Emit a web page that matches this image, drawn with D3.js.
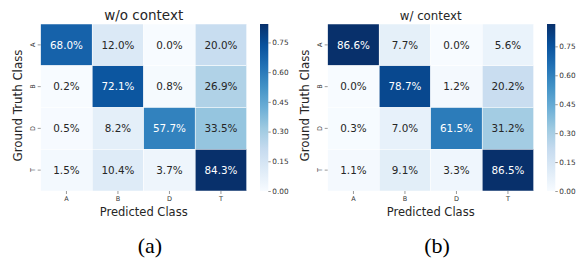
<!DOCTYPE html>
<html>
<head>
<meta charset="utf-8">
<script src="https://cdn.jsdelivr.net/npm/d3@7"></script>
<style>
  body { margin: 0; background: #fff; }
  svg { font-family: "DejaVu Sans", sans-serif; }
</style>
</head>
<body>
<div id="chart"></div>
<script>
const classes = ['A', 'B', 'D', 'T']
const woContext = [
  [68.0, 12.0, 0.0, 20.0],
  [0.2, 72.1, 0.8, 26.9],
  [0.5, 8.2, 57.7, 33.5],
  [1.5, 10.4, 3.7, 84.3]
]
const wContext = [
  [86.6, 7.7, 0.0, 5.6],
  [0.0, 78.7, 1.2, 20.2],
  [0.3, 7.0, 61.5, 31.2],
  [1.1, 9.1, 3.3, 86.5]
]
const titles = ['w/o context', 'w/ context']
const captions = ['(a)', '(b)']
const cbTicks = [0, 0.15, 0.30, 0.45, 0.60, 0.75]

const width = 579
const height = 260

const svg = d3.select('#chart').append('svg')
  .attr('width', width)
  .attr('height', height)

// matplotlib Blues = linear through the brewer colours
const blues = d3.schemeBlues[9]

function lum (c) {
  const rgb = d3.rgb(c)
  const f = v => {
    v = v / 255
    return v <= 0.03928 ? v / 12.92 : Math.pow((v + 0.055) / 1.055, 2.4)
  }
  return 0.2126 * f(rgb.r) + 0.7152 * f(rgb.g) + 0.0722 * f(rgb.b)
}

function drawPanel (g, matrix, title, caption, titleSize) {
  const x0 = 40.7, x1 = 246.7, y0 = 24, y1 = 191
  const vmax = d3.max(matrix.flat()) / 100

  const x = d3.scaleBand().domain(classes).range([x0, x1])
  const y = d3.scaleBand().domain(classes).range([y0, y1])
  const color = d3.scaleLinear()
    .domain(d3.range(9).map(i => i / 8 * vmax))
    .range(blues)
    .clamp(true)

  const cells = []
  matrix.forEach((row, i) => row.forEach((v, j) => {
    cells.push({ r: classes[i], c: classes[j], v: v })
  }))

  g.selectAll('rect.cell')
    .data(cells)
    .enter().append('rect')
    .attr('class', 'cell')
    .attr('x', d => x(d.c))
    .attr('y', d => y(d.r))
    .attr('width', x.bandwidth())
    .attr('height', y.bandwidth())
    .attr('fill', d => color(d.v / 100))
    .attr('stroke', '#fff')
    .attr('stroke-width', 0.5)

  g.selectAll('text.val')
    .data(cells)
    .enter().append('text')
    .attr('class', 'val')
    .attr('x', d => x(d.c) + x.bandwidth() / 2)
    .attr('y', d => y(d.r) + y.bandwidth() / 2)
    .attr('dy', '0.36em')
    .attr('text-anchor', 'middle')
    .attr('font-size', 10.4)
    .attr('fill', d => lum(color(d.v / 100)) > 0.408 ? '#262626' : '#fff')
    .text(d => d.v.toFixed(1) + '%')

  // x axis
  const xAxis = g.append('g')
    .attr('transform', 'translate(0,' + y1 + ')')
    .call(d3.axisBottom(x).tickSize(3).tickPadding(2))
  xAxis.select('.domain').remove()
  xAxis.selectAll('line').attr('stroke', '#555').attr('stroke-width', 0.6)
  xAxis.selectAll('text').attr('font-size', 6.5).attr('fill', '#333')
    .attr('font-family', '"DejaVu Sans", sans-serif')

  // y axis, labels turned like seaborn does
  const yAxis = g.append('g')
    .attr('transform', 'translate(' + x0 + ',0)')
    .call(d3.axisLeft(y).tickSize(3).tickPadding(2))
  yAxis.select('.domain').remove()
  yAxis.selectAll('line').attr('stroke', '#555').attr('stroke-width', 0.6)
  yAxis.selectAll('text')
    .attr('font-size', 6.5).attr('fill', '#333')
    .attr('font-family', '"DejaVu Sans", sans-serif')
    .attr('text-anchor', 'middle')
    .attr('x', 0).attr('dy', 0)
    .attr('transform', 'translate(-8,0) rotate(-90)')
    .attr('y', 0)
    .attr('dominant-baseline', 'central')

  // labels
  g.append('text')
    .attr('x', (x0 + x1) / 2)
    .attr('y', 19.5)
    .attr('text-anchor', 'middle')
    .attr('font-size', titleSize)
    .attr('fill', '#262626')
    .text(title)

  g.append('text')
    .attr('x', (x0 + x1) / 2)
    .attr('y', 216)
    .attr('text-anchor', 'middle')
    .attr('font-size', 11.5)
    .attr('fill', '#262626')
    .text('Predicted Class')

  g.append('text')
    .attr('transform', 'translate(21.5,' + ((y0 + y1) / 2 - 2) + ') rotate(-90)')
    .attr('text-anchor', 'middle')
    .attr('font-size', 11.8)
    .attr('fill', '#262626')
    .text('Ground Truth Class')

  g.append('text')
    .attr('x', 150)
    .attr('y', 253)
    .attr('text-anchor', 'middle')
    .style('font-size', '22px')
    .style('font-family', '"Liberation Serif", "Times New Roman", serif')
    .attr('fill', '#000')
    .text(caption)

  // colorbar
  const cbx = 260, cbw = 8.3
  const cy = d3.scaleLinear().domain([0, vmax]).range([y1, y0])
  const gradId = 'grad' + caption.replace(/\W/g, '')
  const grad = svg.append('defs').append('linearGradient')
    .attr('id', gradId)
    .attr('x1', 0).attr('y1', 1).attr('x2', 0).attr('y2', 0)
  blues.forEach((c, i) => {
    grad.append('stop').attr('offset', i / 8).attr('stop-color', c)
  })
  g.append('rect')
    .attr('x', cbx).attr('y', y0)
    .attr('width', cbw).attr('height', y1 - y0)
    .attr('fill', 'url(#' + gradId + ')')

  const cAxis = g.append('g')
    .attr('transform', 'translate(' + (cbx + cbw) + ',0)')
    .call(d3.axisRight(cy).tickValues(cbTicks).tickFormat(d3.format('.2f')).tickSize(2.5).tickPadding(1.5))
  cAxis.select('.domain').remove()
  cAxis.selectAll('line').attr('stroke', '#555').attr('stroke-width', 0.6)
  cAxis.selectAll('text').attr('font-size', 7.3).attr('fill', '#333')
    .attr('font-family', '"DejaVu Sans", sans-serif')
}

drawPanel(svg.append('g'), woContext, titles[0], captions[0], 13.5)
drawPanel(svg.append('g').attr('transform', 'translate(287,0)'), wContext, titles[1], captions[1], 11.8)
</script>
</body>
</html>
